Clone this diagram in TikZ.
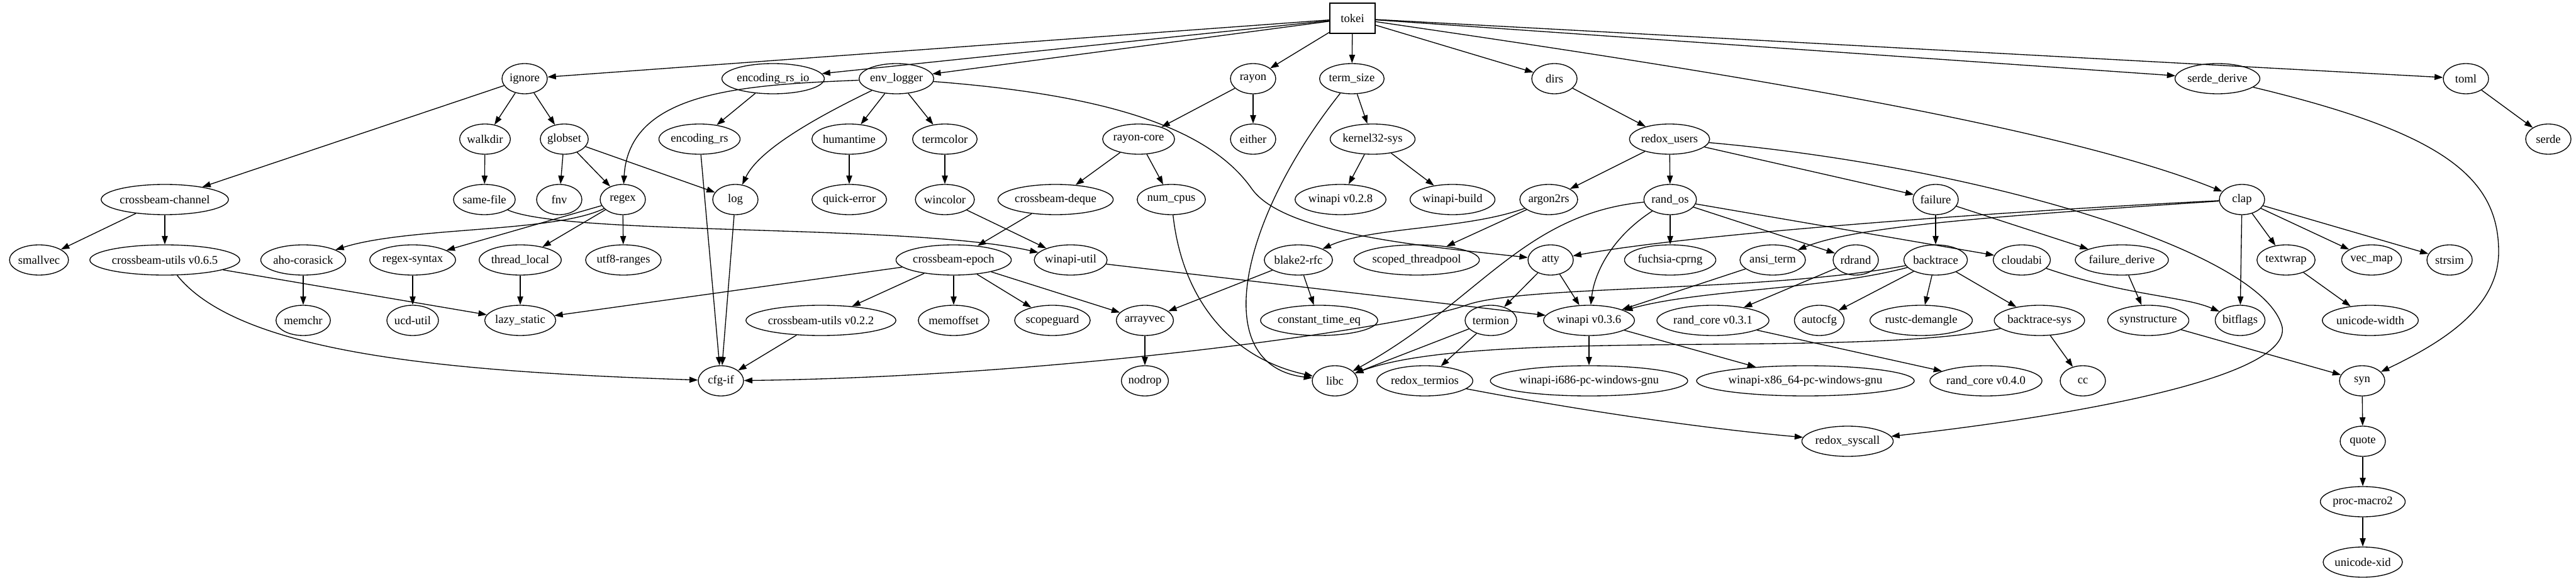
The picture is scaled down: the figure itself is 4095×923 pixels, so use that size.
\documentclass[tikz,border=0pt]{standalone}
\usepackage{fontspec}
\setmainfont{Liberation Serif}
\usetikzlibrary{shapes.geometric,arrows.meta}

\newcommand\depfont{\fontsize{14pt}{16.8pt}\selectfont}
\newlength\crw
% one crate: name, position, label (width taken from the label)
\newcommand\crate[3]{%
  \settowidth{\crw}{\depfont #3}%
  \node[crate, minimum width={max(54pt,1.28*\crw+20.2pt)}] (#1) at (#2) {#3};}

\tikzset{
  crate/.style={draw, ellipse, line width=1pt, inner sep=0pt, minimum height=36pt},
  root/.style={draw, rectangle, line width=1pt, minimum width=54pt, minimum height=36pt},
  link/.style={line width=1pt, -{Triangle[length=10pt,width=7pt]}}
}

\begin{document}
\begin{tikzpicture}[x=0.75pt, y=0.75pt, font=\depfont]
    \useasboundingbox (0,0) rectangle (4095,-923);
    %\draw (0,0) grid (4095,-923);
    \node[root] (tokei) at (2150,-29) {tokei};
    % rank 1
    \crate{ignore}{834,-125}{ignore}
    \crate{encrsio}{1229,-125}{encoding\_rs\_io}
    \crate{envlogger}{1425,-125}{env\_logger}
    \crate{rayon}{1992,-125}{rayon}
    \crate{termsize}{2149,-125}{term\_size}
    \crate{dirs}{2471,-125}{dirs}
    \crate{serdederive}{3525,-125}{serde\_derive}
    \crate{toml}{3920,-125}{toml}
    % rank 2
    \crate{walkdir}{771,-221}{walkdir}
    \crate{globset}{897,-221}{globset}
    \crate{encrs}{1112,-221}{encoding\_rs}
    \crate{humantime}{1350,-221}{humantime}
    \crate{termcolor}{1502,-221}{termcolor}
    \crate{rayoncore}{1810,-221}{rayon-core}
    \crate{either}{1992,-221}{either}
    \crate{kernel}{2182,-221}{kernel32-sys}
    \crate{redoxusers}{2654,-221}{redox\_users}
    \crate{serde}{4051,-221}{serde}
    % rank 3
    \crate{cbchannel}{262,-317}{crossbeam-channel}
    \crate{samefile}{770,-317}{same-file}
    \crate{fnv}{889,-317}{fnv}
    \crate{regex}{990,-317}{regex}
    \crate{log}{1169,-317}{log}
    \crate{quickerror}{1350,-317}{quick-error}
    \crate{wincolor}{1502,-317}{wincolor}
    \crate{cbdeque}{1678,-317}{crossbeam-deque}
    \crate{numcpus}{1862,-317}{num\_cpus}
    \crate{winapiA}{2131,-317}{winapi v0.2.8}
    \crate{winapibuild}{2309,-317}{winapi-build}
    \crate{argon}{2462,-317}{argon2rs}
    \crate{randos}{2655,-317}{rand\_os}
    \crate{failure}{3077,-317}{failure}
    \crate{clap}{3564,-317}{clap}
    % rank 4
    \crate{smallvec}{62,-413}{smallvec}
    \crate{cbutilsA}{262,-413}{crossbeam-utils v0.6.5}
    \crate{aho}{482,-413}{aho-corasick}
    \crate{regexsyntax}{656,-413}{regex-syntax}
    \crate{threadlocal}{827,-413}{thread\_local}
    \crate{utf}{991,-413}{utf8-ranges}
    \crate{cbepoch}{1516,-413}{crossbeam-epoch}
    \crate{winapiutil}{1702,-413}{winapi-util}
    \crate{blake}{2064,-413}{blake2-rfc}
    \crate{scoped}{2252,-413}{scoped\_threadpool}
    \crate{atty}{2465,-413}{atty}
    \crate{fuchsia}{2655,-413}{fuchsia-cprng}
    \crate{ansiterm}{2818,-413}{ansi\_term}
    \crate{rdrand}{2950,-413}{rdrand}
    \crate{backtrace}{3077,-413}{backtrace}
    \crate{cloudabi}{3214,-413}{cloudabi}
    \crate{failurederive}{3373,-413}{failure\_derive}
    \crate{textwrap}{3634,-413}{textwrap}
    \crate{vecmap}{3770,-413}{vec\_map}
    \crate{strsim}{3894,-413}{strsim}
    % rank 5
    \crate{memchr}{482,-509}{memchr}
    \crate{ucdutil}{656,-509}{ucd-util}
    \crate{lazystatic}{827,-509}{lazy\_static}
    \crate{cbutilsB}{1305,-509}{crossbeam-utils v0.2.2}
    \crate{memoffset}{1516,-509}{memoffset}
    \crate{scopeguard}{1673,-509}{scopeguard}
    \crate{arrayvec}{1820,-509}{arrayvec}
    \crate{consttime}{2097,-509}{constant\_time\_eq}
    \crate{termion}{2370,-509}{termion}
    \crate{winapiB}{2526,-509}{winapi v0.3.6}
    \crate{randcoreA}{2723,-509}{rand\_core v0.3.1}
    \crate{autocfg}{2892,-509}{autocfg}
    \crate{demangle}{3054,-509}{rustc-demangle}
    \crate{btsys}{3242,-509}{backtrace-sys}
    \crate{synstructure}{3415,-509}{synstructure}
    \crate{bitflags}{3561,-509}{bitflags}
    \crate{uniwidth}{3768,-509}{unicode-width}
    % rank 6
    \crate{cfgif}{1146,-605}{cfg-if}
    \crate{nodrop}{1820,-605}{nodrop}
    \crate{libc}{2122,-605}{libc}
    \crate{redoxtermios}{2265,-605}{redox\_termios}
    \crate{winapiI}{2526,-605}{winapi-i686-pc-windows-gnu}
    \crate{winapiX}{2870,-605}{winapi-x86\_64-pc-windows-gnu}
    \crate{randcoreB}{3157,-605}{rand\_core v0.4.0}
    \crate{cc}{3311,-605}{cc}
    \crate{syn}{3755,-605}{syn}
    % rank 7 to 9
    \crate{redoxsyscall}{2937,-701}{redox\_syscall}
    \crate{quote}{3756,-701}{quote}
    \crate{procmacro}{3756,-797}{proc-macro2}
    \crate{unixid}{3756,-893}{unicode-xid}

    % tokei
    \draw[link] (tokei) -- (ignore);
    \draw[link] (tokei) -- (encrsio);
    \draw[link] (tokei) -- (envlogger);
    \draw[link] (tokei) -- (rayon);
    \draw[link] (tokei) -- (termsize);
    \draw[link] (tokei) -- (dirs);
    \draw[link] (tokei) .. controls (2600,-95) and (3250,-190) .. (clap);
    \draw[link] (tokei) -- (serdederive);
    \draw[link] (tokei) -- (toml);
    % ignore and regex
    \draw[link] (ignore) -- (walkdir);
    \draw[link] (ignore) -- (globset);
    \draw[link] (ignore) -- (cbchannel);
    \draw[link] (walkdir) -- (samefile);
    \draw[link] (globset) -- (fnv);
    \draw[link] (globset) -- (regex);
    \draw[link] (globset) -- (log);
    \draw[link] (cbchannel) -- (smallvec);
    \draw[link] (cbchannel) -- (cbutilsA);
    \draw[link] (cbutilsA) -- (lazystatic);
    \draw[link] (cbutilsA) .. controls (380,-560) and (700,-590) .. (cfgif);
    \draw[link] (samefile) .. controls (900,-375) and (1450,-355) .. (winapiutil);
    \draw[link] (regex) .. controls (880,-370) and (650,-360) .. (aho);
    \draw[link] (regex) -- (regexsyntax);
    \draw[link] (regex) -- (threadlocal);
    \draw[link] (regex) -- (utf);
    \draw[link] (aho) -- (memchr);
    \draw[link] (regexsyntax) -- (ucdutil);
    \draw[link] (threadlocal) -- (lazystatic);
    % encoding_rs and env_logger
    \draw[link] (encrsio) -- (encrs);
    \draw[link] (encrs) -- (cfgif);
    \draw[link] (envlogger) .. controls (1180,-135) and (1000,-145) .. (regex);
    \draw[link] (envlogger) .. controls (1290,-190) and (1205,-240) .. (log);
    \draw[link] (envlogger) -- (humantime);
    \draw[link] (envlogger) -- (termcolor);
    \draw[link] (envlogger) .. controls (1750,-150) and (1920,-200) .. (1990,-300)
        .. controls (2040,-370) and (2250,-390) .. (atty);
    \draw[link] (log) -- (cfgif);
    \draw[link] (humantime) -- (quickerror);
    \draw[link] (termcolor) -- (wincolor);
    \draw[link] (wincolor) -- (winapiutil);
    \draw[link] (winapiutil) -- (winapiB);
    % rayon
    \draw[link] (rayon) -- (rayoncore);
    \draw[link] (rayon) -- (either);
    \draw[link] (rayoncore) -- (cbdeque);
    \draw[link] (rayoncore) -- (numcpus);
    \draw[link] (cbdeque) -- (cbepoch);
    \draw[link] (cbepoch) -- (lazystatic);
    \draw[link] (cbepoch) -- (cbutilsB);
    \draw[link] (cbepoch) -- (memoffset);
    \draw[link] (cbepoch) -- (scopeguard);
    \draw[link] (cbepoch) -- (arrayvec);
    \draw[link] (cbutilsB) -- (cfgif);
    \draw[link] (arrayvec) -- (nodrop);
    \draw[link] (numcpus) .. controls (1880,-480) and (1960,-570) .. (libc);
    % term_size and dirs
    \draw[link] (termsize) -- (kernel);
    \draw[link] (termsize) .. controls (1970,-350) and (1920,-580) .. (libc);
    \draw[link] (kernel) -- (winapiA);
    \draw[link] (kernel) -- (winapibuild);
    \draw[link] (dirs) -- (redoxusers);
    \draw[link] (redoxusers) -- (argon);
    \draw[link] (redoxusers) -- (randos);
    \draw[link] (redoxusers) -- (failure);
    \draw[link] (redoxusers) .. controls (3150,-265) and (3600,-400) .. (3628,-520)
        .. controls (3640,-600) and (3300,-660) .. (redoxsyscall);
    \draw[link] (argon) .. controls (2330,-365) and (2180,-360) .. (blake);
    \draw[link] (argon) -- (scoped);
    \draw[link] (blake) -- (arrayvec);
    \draw[link] (blake) -- (consttime);
    \draw[link] (randos) -- (fuchsia);
    \draw[link] (randos) -- (rdrand);
    \draw[link] (randos) -- (cloudabi);
    \draw[link] (randos) .. controls (2420,-340) and (2350,-480) .. (libc);
    \draw[link] (randos) .. controls (2565,-375) and (2535,-430) .. (winapiB);
    \draw[link] (rdrand) -- (randcoreA);
    \draw[link] (randcoreA) -- (randcoreB);
    \draw[link] (atty) -- (termion);
    \draw[link] (atty) -- (winapiB);
    \draw[link] (ansiterm) -- (winapiB);
    \draw[link] (termion) -- (libc);
    \draw[link] (termion) -- (redoxtermios);
    \draw[link] (redoxtermios) .. controls (2500,-650) and (2700,-680) .. (redoxsyscall);
    \draw[link] (winapiB) -- (winapiI);
    \draw[link] (winapiB) -- (winapiX);
    % failure and backtrace
    \draw[link] (failure) -- (backtrace);
    \draw[link] (failure) -- (failurederive);
    \draw[link] (failurederive) -- (synstructure);
    \draw[link] (backtrace) -- (autocfg);
    \draw[link] (backtrace) -- (demangle);
    \draw[link] (backtrace) -- (btsys);
    \draw[link] (backtrace) .. controls (2900,-460) and (2700,-460) .. (winapiB);
    \draw[link] (backtrace) .. controls (2800,-465) and (2420,-452) .. (2330,-485)
        .. controls (2240,-518) and (1700,-598) .. (cfgif);
    \draw[link] (btsys) -- (cc);
    \draw[link] (btsys) .. controls (2950,-570) and (2350,-520) .. (libc);
    \draw[link] (cloudabi) .. controls (3380,-470) and (3470,-470) .. (bitflags);
    \draw[link] (synstructure) -- (syn);
    % clap and serde
    \draw[link] (clap) .. controls (3200,-335) and (2700,-370) .. (atty);
    \draw[link] (clap) .. controls (3150,-345) and (2950,-360) .. (ansiterm);
    \draw[link] (clap) -- (bitflags);
    \draw[link] (clap) -- (textwrap);
    \draw[link] (clap) -- (vecmap);
    \draw[link] (clap) -- (strsim);
    \draw[link] (textwrap) -- (uniwidth);
    \draw[link] (serdederive) .. controls (3880,-210) and (3972,-280) .. (3972,-400)
        .. controls (3972,-490) and (3880,-545) .. (syn);
    \draw[link] (toml) -- (serde);
    \draw[link] (syn) -- (quote);
    \draw[link] (quote) -- (procmacro);
    \draw[link] (procmacro) -- (unixid);
\end{tikzpicture}
\end{document}
